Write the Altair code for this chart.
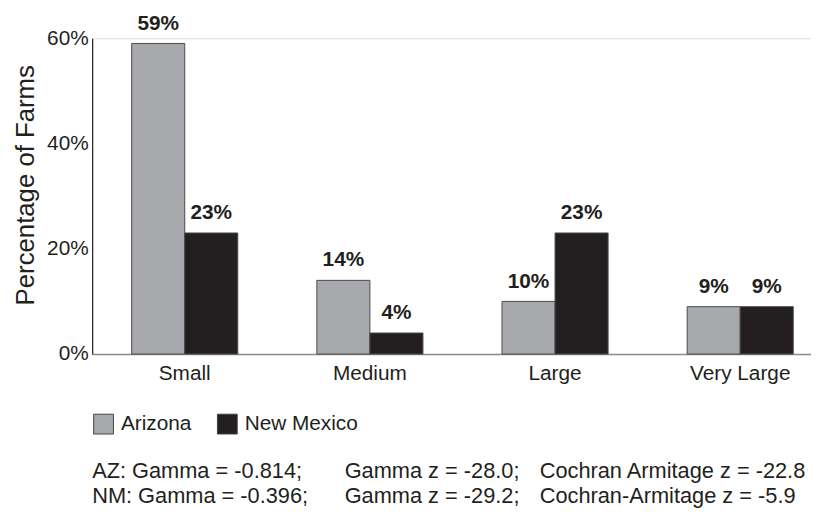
import altair as alt
import pandas as pd

sizes = ["Small", "Medium", "Large", "Very Large"]
states = ["Arizona", "New Mexico"]
arizona = [0.59, 0.14, 0.10, 0.09]
new_mexico = [0.23, 0.04, 0.23, 0.09]
y_ticks = [0, 0.2, 0.4, 0.6]
colors = ["#a7a9ac", "#231f20"]

footer_az = ["AZ: Gamma = -0.814;", "Gamma z = -28.0;", "Cochran Armitage z = -22.8"]
footer_nm = ["NM: Gamma = -0.396;", "Gamma z = -29.2;", "Cochran-Armitage z = -5.9"]

rows = []
for s, a, n in zip(sizes, arizona, new_mexico):
    rows.append({"size": s, "state": states[0], "pct": a})
    rows.append({"size": s, "state": states[1], "pct": n})
df = pd.DataFrame(rows)

FONT = "Liberation Sans"
TXT = "#231f20"

xenc = alt.X("size:N", sort=sizes, title=None,
             scale=alt.Scale(range=[0, 748], paddingInner=0.427, paddingOuter=0.2135),
             axis=alt.Axis(labelAngle=0, ticks=False, labelPadding=9, labelFontSize=21,
                           domainColor="#8a8a8a", domainWidth=1.5, labelColor=TXT, labelFont=FONT))
xoff = alt.XOffset("state:N", sort=states,
                   scale=alt.Scale(domain=states, paddingInner=0, paddingOuter=0))
yenc = alt.Y("pct:Q", title="Percentage of Farms",
             scale=alt.Scale(domain=[0, 0.6], nice=False),
             axis=alt.Axis(values=y_ticks, format=".0%", grid=False, ticks=False,
                           labelPadding=4, labelFontSize=21, labelColor=TXT, labelFont=FONT,
                           domainColor=TXT, domainWidth=1.2,
                           titleFontSize=26, titleFontWeight="normal", titleColor=TXT,
                           titleFont=FONT, titlePadding=8, titleY=148, titleAlign="center"))

base = alt.Chart(df)

bars = base.mark_bar(stroke="#4a4a4a", strokeWidth=1).encode(
    x=xenc, xOffset=xoff, y=yenc,
    color=alt.Color("state:N", sort=states,
                    scale=alt.Scale(domain=states, range=colors),
                    legend=alt.Legend(title=None, orient="none", legendX=1, legendY=379,
                                      direction="horizontal", symbolType="square",
                                      symbolSize=400, symbolStrokeColor="#444444",
                                      symbolStrokeWidth=1, symbolOpacity=1,
                                      labelFontSize=21, labelFont=FONT, labelColor=TXT,
                                      labelOffset=7, columnPadding=23)),
)

labels = base.mark_text(baseline="alphabetic", dy=-14, fontSize=21, fontWeight="bold",
                        font=FONT, color=TXT).encode(
    x=alt.X("size:N", sort=sizes), xOffset=xoff, y="pct:Q",
    text=alt.Text("pct:Q", format=".0%"),
)

col_x = [0, 255, 452]
line_y = [444, 469]
footer_layers = []
for li, line in enumerate([footer_az, footer_nm]):
    for ci, t in enumerate(line):
        footer_layers.append(
            alt.Chart(pd.DataFrame({"t": [t]})).mark_text(
                align="left", baseline="alphabetic", fontSize=22, font=FONT, color=TXT
            ).encode(text="t:N", x=alt.value(col_x[ci]), y=alt.value(line_y[li]))
        )

chart = alt.layer(bars, labels, *footer_layers).properties(
    width=726, height=319,
    autosize=alt.AutoSizeParams(type="none"),
    padding={"left": 85, "top": 28, "right": 0, "bottom": 156},
).configure_view(stroke=None).configure(font=FONT)

chart.save("out.html", embed_options={"renderer": "svg", "actions": False})
